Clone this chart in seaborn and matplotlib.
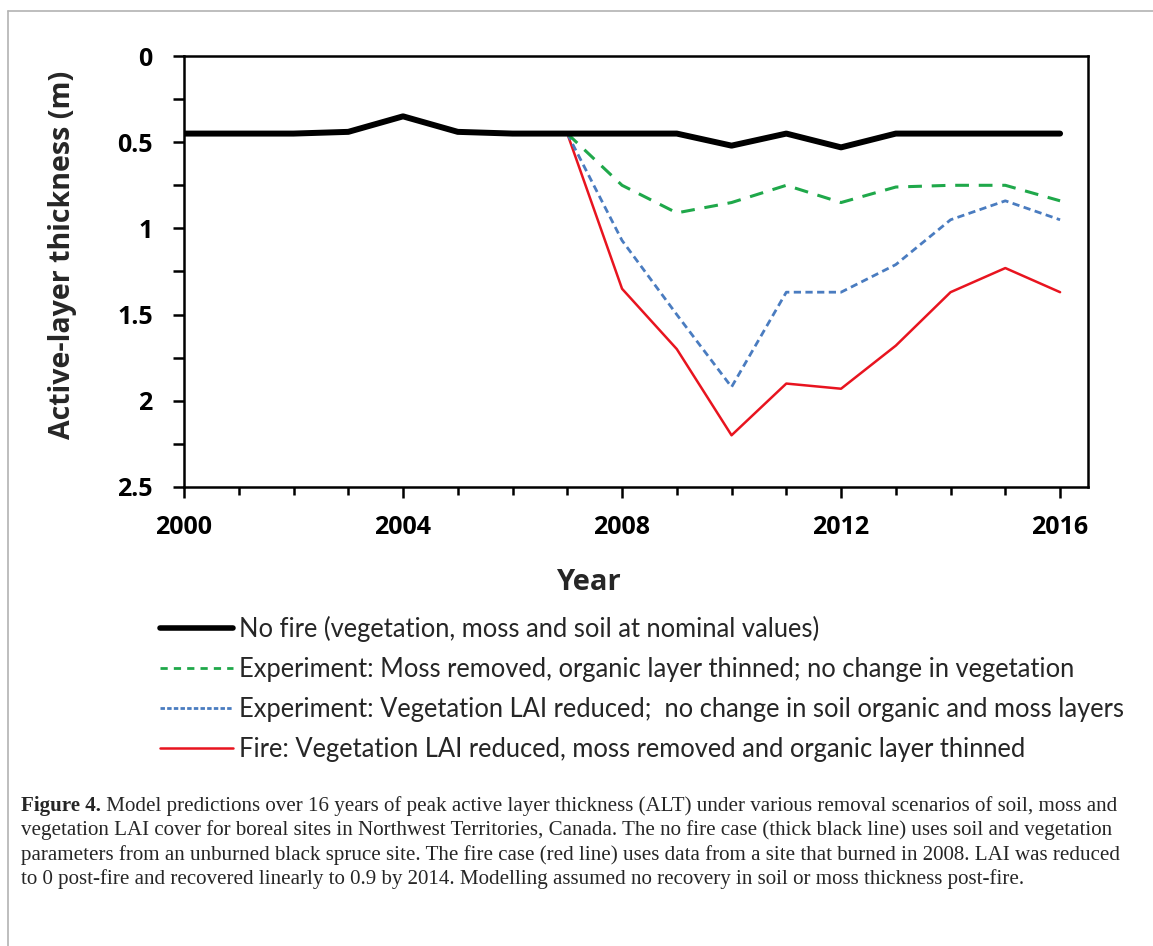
import matplotlib
matplotlib.use("Agg")
import matplotlib.pyplot as plt
from matplotlib.lines import Line2D
from matplotlib.ticker import MultipleLocator, FixedLocator
import seaborn as sns
import pandas as pd

years = list(range(2000, 2017))
post_years = list(range(2007, 2017))

no_fire = [0.45, 0.45, 0.45, 0.44, 0.35, 0.44, 0.45, 0.45, 0.45, 0.45,
           0.52, 0.45, 0.53, 0.45, 0.45, 0.45, 0.45]
exp_moss = [0.45, 0.75, 0.91, 0.85, 0.75, 0.85, 0.76, 0.75, 0.75, 0.84]
exp_lai = [0.45, 1.07, 1.50, 1.92, 1.37, 1.37, 1.21, 0.95, 0.84, 0.95]
fire = [0.45, 1.35, 1.70, 2.20, 1.90, 1.93, 1.68, 1.37, 1.23, 1.37]

labels = [
    "No fire (vegetation, moss and soil at nominal values)",
    "Experiment: Moss removed, organic layer thinned; no change in vegetation",
    "Experiment: Vegetation LAI reduced;  no change in soil organic and moss layers",
    "Fire: Vegetation LAI reduced, moss removed and organic layer thinned",
]
caption_lines = [
    ("Figure 4.", " Model predictions over 16 years of peak active layer thickness (ALT) under various removal scenarios of soil, moss and"),
    ("", "vegetation LAI cover for boreal sites in Northwest Territories, Canada. The no fire case (thick black line) uses soil and vegetation"),
    ("", "parameters from an unburned black spruce site. The fire case (red line) uses data from a site that burned in 2008. LAI was reduced"),
    ("", "to 0 post-fire and recovered linearly to 0.9 by 2014. Modelling assumed no recovery in soil or moss thickness post-fire."),
]

sns.set_theme(style="white")
plt.rcParams['font.family'] = ['Open Sans', 'DejaVu Sans']

fig = plt.figure(figsize=(11.53, 9.46), dpi=100)
W, H = 1153, 946
ax = fig.add_axes([184 / W, 1 - 487 / H, (1088 - 184) / W, (487 - 56) / H])

df_nf = pd.DataFrame({"year": years, "alt": no_fire})
df_m = pd.DataFrame({"year": post_years, "alt": exp_moss})
df_l = pd.DataFrame({"year": post_years, "alt": exp_lai})
df_f = pd.DataFrame({"year": post_years, "alt": fire})

c_black, c_green, c_blue, c_red = "#000000", "#1fa84a", "#4a7cc0", "#e8141f"

sns.lineplot(data=df_f, x="year", y="alt", ax=ax, color=c_red, lw=1.8)
sns.lineplot(data=df_l, x="year", y="alt", ax=ax, color=c_blue, lw=2.0,
             linestyle=(0, (2.6, 1.6)))
sns.lineplot(data=df_m, x="year", y="alt", ax=ax, color=c_green, lw=2.2,
             linestyle=(0, (4.5, 3.2)))
sns.lineplot(data=df_nf, x="year", y="alt", ax=ax, color=c_black, lw=4.3,
             solid_capstyle="round")

ax.set_xlim(2000, 2016.51)
ax.set_ylim(2.5, 0)
ax.xaxis.set_major_locator(FixedLocator([2000, 2004, 2008, 2012, 2016]))
ax.xaxis.set_minor_locator(MultipleLocator(1))
ax.yaxis.set_minor_locator(MultipleLocator(0.25))
ax.set_yticks([0, 0.5, 1, 1.5, 2, 2.5])
ax.set_yticklabels(["0", "0.5", "1", "1.5", "2", "2.5"])
ax.tick_params(axis="both", which="both", direction="out", color="black",
               width=1.8, labelsize=18, labelcolor="black")
ax.tick_params(axis="y", which="both", length=8, left=True, pad=14.5)
ax.tick_params(axis="x", which="major", length=8, bottom=True, pad=12)
ax.tick_params(axis="x", which="minor", length=6, bottom=True)
for lab in ax.get_xticklabels() + ax.get_yticklabels():
    lab.set_fontweight("bold")
for s in ax.spines.values():
    s.set_visible(True)
    s.set_color("black")
    s.set_linewidth(1.8)
ax.grid(False)

ax.set_xlabel("")
ax.set_ylabel("")
fig.text(63 / W, 1 - 255 / H, "Active-layer thickness (m)", rotation=90,
         ha="center", va="center", fontsize=20.5, fontweight="bold")
fig.text(588 / W, 1 - 582 / H, "Year", ha="center", va="center",
         fontsize=21, fontweight="bold")

handles = [
    Line2D([], [], color=c_black, lw=4.0),
    Line2D([], [], color=c_green, lw=2.0, linestyle=(0, (2.6, 2.2))),
    Line2D([], [], color=c_blue, lw=2.0, linestyle=(0, (1.6, 0.8))),
    Line2D([], [], color=c_red, lw=1.8),
]
leg = fig.legend(handles, labels, loc="upper left",
                 bbox_to_anchor=(160 / W, 1 - 616 / H), frameon=False,
                 prop={"family": "Lato", "size": 18.4}, handlelength=2.85,
                 handletextpad=0.23, labelspacing=0.58, borderaxespad=0,
                 borderpad=0)

# frame border
fig.add_artist(Line2D([8 / W, 1.0], [1 - 11 / H, 1 - 11 / H], color="#b3b3b3",
                      lw=1.2, transform=fig.transFigure))
fig.add_artist(Line2D([8 / W, 8 / W], [1 - 11 / H, 0.0], color="#b3b3b3",
                      lw=1.2, transform=fig.transFigure))

# caption
ys = [806, 830, 855, 879]
cap_size = 15.1
for (bold, rest), y in zip(caption_lines, ys):
    x0 = 21 / W
    if bold:
        t = fig.text(x0, 1 - y / H, bold, ha="left", va="center",
                     fontsize=cap_size, fontweight="bold", family="Liberation Serif")
        fig.canvas.draw()
        bb = t.get_window_extent()
        x0 = bb.x1 / W
    fig.text(x0, 1 - y / H, rest, ha="left", va="center", fontsize=cap_size,
             family="Liberation Serif")

fig.savefig("out.png", dpi=100)
